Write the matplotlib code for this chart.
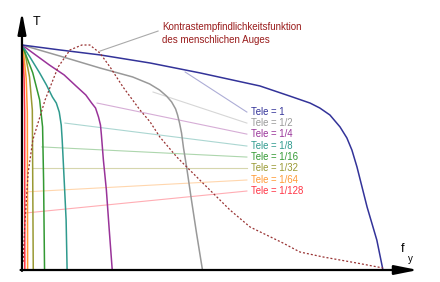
import matplotlib.pyplot as plt

plt.rcParams['font.family'] = ['Liberation Sans', 'DejaVu Sans']

# cut-off frequency of each tele setting (fraction of the Tele = 1 cut-off)
tele_labels = ["Tele = 1", "Tele = 1/2", "Tele = 1/4", "Tele = 1/8",
               "Tele = 1/16", "Tele = 1/32", "Tele = 1/64", "Tele = 1/128"]
tele_cutoff = [1, 1/2, 1/4, 1/8, 1/16, 1/32, 1/64, 1/128]
tele_colors = ["#333399", "#999999", "#993399", "#2f9a8e",
               "#339933", "#999933", "#ff9933", "#ff3344"]

# transfer curves, frequency given relative to the curve's own cut-off
u_1 = [0, .105, .216, .355, .493, .659, .742, .798, .825, .853, .881, .900,
       .914, .928, .942, .956, .970, .983, 1.0]
t_1 = [1.0, .978, .956, .920, .876, .818, .773, .742, .720, .689, .636, .587,
       .533, .458, .369, .280, .204, .133, 0]
u_2 = [0, .210, .431, .613, .707, .762, .801, .829, .851, .862, .873, .884,
       .895, .912, .939, .967, 1.0]
t_2 = [1.0, .951, .898, .858, .827, .800, .773, .747, .716, .689, .653, .609,
       .542, .458, .311, .164, 0]
u_4 = [0, .304, .467, .598, .707, .772, .815, .848, .870, .880, .902, .935,
       .967, 1.0]
t_4 = [1.0, .911, .867, .818, .778, .742, .720, .680, .644, .600, .489, .356,
       .178, 0]
u_8 = [0, .174, .391, .543, .674, .761, .826, .870, .891, .935, .978, 1.0]
t_8 = [1.0, .947, .876, .822, .769, .742, .702, .644, .578, .400, .222, 0]
u_16 = [0, .261, .478, .783, .913, .957, 1.0]
t_16 = [1.0, .933, .876, .756, .636, .400, 0]
u_32 = [0, .25, .667, .917, 1.0]
t_32 = [1.0, .969, .858, .711, 0]
u_64 = [0, .30, .75, .95, 1.0]
t_64 = [1.0, .96, .85, .70, 0]
u_128 = [0, .30, .75, .95, 1.0]
t_128 = [1.0, .96, .85, .70, 0]
curves_u = [u_1, u_2, u_4, u_8, u_16, u_32, u_64, u_128]
curves_t = [t_1, t_2, t_4, t_8, t_16, t_32, t_64, t_128]

# where each leader line touches its curve, and where the label sits
leader_f = [.452, .363, .208, .119, .055, .030, .008, .008]
leader_t = [.880, .791, .742, .653, .547, .453, .347, .253]
label_t = [.702, .653, .604, .551, .502, .453, .400, .351]

# contrast sensitivity function of the eye
csf_f = [.003, .008, .017, .030, .064, .100, .133, .166, .188, .216, .244,
         .280, .327, .355, .382, .429, .465, .512, .576, .632, .723, .770,
         .834, .928, 1.0]
csf_t = [.036, .209, .431, .578, .756, .902, .978, 1.0, 1.0, .964, .902,
         .813, .711, .658, .591, .502, .444, .369, .267, .191, .120, .080,
         .058, .031, .009]

fig = plt.figure(figsize=(4.4, 2.82), dpi=100)
ax = fig.add_axes([0, 0, 1, 1])
ax.set_xlim(-0.0609, 1.158)
ax.set_ylim(-0.0533, 1.2)
ax.axis('off')

# curves, highest tele in front of the rest
for i in range(len(tele_cutoff) - 1, -1, -1):
    f = [u * tele_cutoff[i] for u in curves_u[i]]
    ax.plot(f, curves_t[i], color=tele_colors[i], lw=1.1, zorder=3,
            solid_joinstyle='round')

ax.plot(csf_f, csf_t, color="#993333", lw=0.9, dashes=(1.6, 1.6), zorder=4)

# labels with thin leader lines
for i in range(len(tele_labels)):
    ax.plot([leader_f[i], .623], [leader_t[i], label_t[i]],
            color=tele_colors[i], lw=0.8, alpha=0.4, zorder=2)
    ax.text(.634, label_t[i], tele_labels[i], color=tele_colors[i],
            fontsize=6.9, va='center', ha='left')

ax.plot([.216, .377], [.973, 1.062], color="#aaaaaa", lw=0.8, zorder=2)
ax.text(.388, 1.08, "Kontrastempfindlichkeitsfunktion", color="#991b1b",
        fontsize=7, va='center', ha='left')
ax.text(.388, 1.022, "des menschlichen Auges", color="#991b1b",
        fontsize=7, va='center', ha='left')

# axes with arrows
ax.annotate("", xy=(0, 1.147), xytext=(0, -0.004),
            arrowprops=dict(arrowstyle="-|>,head_length=1.3,head_width=0.25",
                            color="black", lw=1.6, shrinkA=0, shrinkB=0),
            zorder=6)
ax.annotate("", xy=(1.097, 0), xytext=(-0.004, 0),
            arrowprops=dict(arrowstyle="-|>,head_length=1.4,head_width=0.28",
                            color="black", lw=1.6, shrinkA=0, shrinkB=0),
            zorder=6)
ax.text(.03, 1.102, "T", fontsize=9, va='center', ha='left')
ax.text(1.055, .093, "f", fontsize=9, va='center', ha='center')
ax.text(1.075, .05, "y", fontsize=7, va='center', ha='center')

plt.savefig("out.png", dpi=100)
